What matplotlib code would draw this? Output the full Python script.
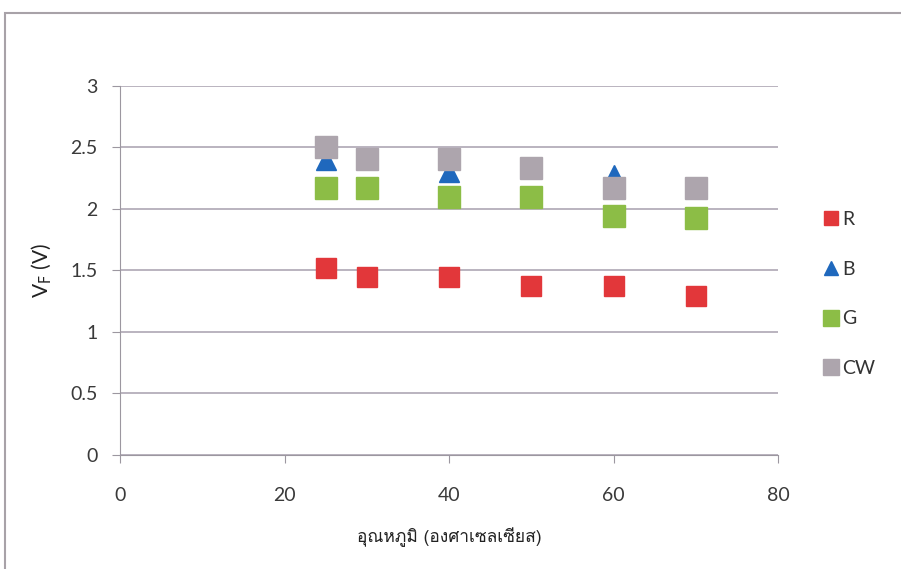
import matplotlib
matplotlib.use("Agg")
from matplotlib import pyplot as plt
from matplotlib import font_manager
from matplotlib.ft2font import FT2Font
from matplotlib.patches import Rectangle

temps = [25, 30, 40, 50, 60, 70]
vf_r = [1.52, 1.45, 1.45, 1.37, 1.37, 1.29]
vf_b = [2.40, 2.41, 2.30, 2.33, 2.28, 2.17]
vf_g = [2.17, 2.17, 2.10, 2.10, 1.94, 1.93]
vf_cw = [2.50, 2.41, 2.41, 2.33, 2.17, 2.17]
series_names = ['R', 'B', 'G', 'CW']

# look for an installed font that has Thai glyphs
thai_family = 'DejaVu Sans'
for f in font_manager.fontManager.ttflist:
    try:
        if 0x0E2D in FT2Font(f.fname).get_charmap():
            thai_family = f.name
            break
    except Exception:
        pass

plt.rcParams['font.family'] = ['Lato', 'DejaVu Sans']

fig = plt.figure(figsize=(9.01, 5.69), dpi=100)
ax = fig.add_axes([0.1332, 0.2004, 0.7303, 0.6485])

# outer chart border (top/left visible in the scan)
fig.patches.append(Rectangle((0.006, -0.05), 1.1, 1.027, transform=fig.transFigure,
                             fill=False, edgecolor='#a8a2a8', lw=1.5))

ax.plot(temps, vf_r, 's', color='#e2373a', ms=14, label=series_names[0], zorder=3)
ax.plot(temps, vf_b, '^', color='#1f68bd', ms=14, label=series_names[1], zorder=3)
ax.plot(temps, vf_g, 's', color='#8cbd46', ms=16, label=series_names[2], zorder=3)
ax.plot(temps, vf_cw, 's', color='#ada5ad', ms=16, label=series_names[3], zorder=3)

ax.set_xlim(0, 80)
ax.set_ylim(0, 3)
ax.set_xticks([0, 20, 40, 60, 80])
ax.set_yticks([0, 0.5, 1, 1.5, 2, 2.5, 3])
ax.set_yticklabels(['0', '0.5', '1', '1.5', '2', '2.5', '3'])
ax.yaxis.grid(True, color='#a79fae', lw=1.1)
ax.set_axisbelow(True)

for s in ['top', 'right']:
    ax.spines[s].set_visible(False)
for s in ['left', 'bottom']:
    ax.spines[s].set_color('#9c97a0')
ax.tick_params(axis='both', colors='#9c97a0', labelcolor='#3a3a3a', labelsize=14,
               length=6, direction='out')
ax.tick_params(axis='y', pad=10)
ax.tick_params(axis='x', pad=17)

ax.set_ylabel('V$_\\mathrm{F}$ (V)', fontsize=15, color='#222222', labelpad=12)
ax.set_xlabel('อุณหภูมิ (องศาเซลเซียส)', fontsize=12.5, color='#222222',
              family=[thai_family, 'DejaVu Sans'], labelpad=17)

ax.legend(loc='center left', bbox_to_anchor=(1.045, 0.436), frameon=False,
          fontsize=14, markerscale=0.7, handlelength=0.6, handletextpad=0.3,
          labelspacing=1.68, labelcolor='#333333')

fig.savefig('out.png', dpi=100, facecolor='white')
